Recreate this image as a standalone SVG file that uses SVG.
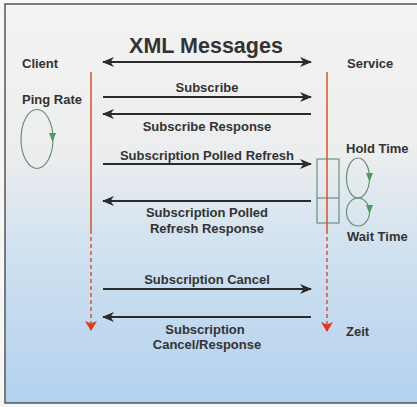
<svg xmlns="http://www.w3.org/2000/svg" width="417" height="407" viewBox="0 0 417 407">
<defs>
<linearGradient id="bg" x1="0" y1="0" x2="0" y2="1">
<stop offset="0" stop-color="#f3f3f1"/>
<stop offset="0.38" stop-color="#ecedee"/>
<stop offset="0.6" stop-color="#d2e2f0"/>
<stop offset="1" stop-color="#b2d1ef"/>
</linearGradient>
<marker id="ah" viewBox="0 0 12 10" refX="11" refY="5" markerWidth="12" markerHeight="10" markerUnits="userSpaceOnUse" orient="auto-start-reverse">
<path d="M0,0 L12,5 L0,10 L3.5,5 Z" fill="#2b2b2b"/>
</marker>
<marker id="rh" viewBox="0 0 12 10" refX="6" refY="9" markerWidth="12" markerHeight="10" markerUnits="userSpaceOnUse" orient="0">
<path d="M0,0 L6,2.5 L12,0 L6,10 Z" fill="#e2381a"/>
</marker>
</defs>
<style>
text{font-family:"Liberation Sans",Arial,sans-serif;font-weight:bold;fill:#333;}
.lbl{font-size:13px;}
.mid{text-anchor:middle;}
.msg{stroke:#2b2b2b;stroke-width:1.8;fill:none;}
.life{stroke:#d8461e;stroke-width:1.4;fill:none;}
.dash{stroke:#e04a1c;stroke-width:1.4;stroke-dasharray:4,3;fill:none;}
.loop{stroke:#5e8c6c;stroke-width:1.1;fill:none;}
.gh{fill:#4f9a62;}
</style>
<rect x="0" y="0" width="417" height="407" fill="#f6f6f4"/>
<rect x="5" y="4" width="420" height="399" fill="url(#bg)" stroke="#555" stroke-width="1.5"/>

<g id="title">
<text x="206" y="53" class="mid" style="font-size:21.5px">XML Messages</text>
</g>

<g id="client">
<text x="22" y="68" class="lbl">Client</text>
<text x="22" y="104" class="lbl">Ping Rate</text>
<ellipse cx="37" cy="139" rx="16" ry="29.5" class="loop"/>
<path d="M49,133 L56,133 L52.5,142 Z" class="gh"/>
</g>

<g id="service">
<text x="347" y="68" class="lbl">Service</text>
<text x="346" y="152.5" class="lbl">Hold Time</text>
<text x="347" y="241" class="lbl">Wait Time</text>
<text x="346" y="336" class="lbl">Zeit</text>
<rect x="317" y="159" width="22" height="64" class="loop"/>
<line x1="317" y1="198" x2="339" y2="198" class="loop"/>
<ellipse cx="358" cy="178" rx="11.5" ry="20" class="loop"/>
<path d="M366,173 L373,173 L369.5,182 Z" class="gh"/>
<ellipse cx="358" cy="212" rx="11.5" ry="14" class="loop"/>
<path d="M366,205 L373,205 L369.5,214 Z" class="gh"/>
</g>

<g id="connectors">
<line x1="103" y1="62" x2="311" y2="62" class="msg" marker-start="url(#ah)" marker-end="url(#ah)"/>
<line x1="91" y1="72" x2="91" y2="230" class="life"/>
<line x1="91" y1="230" x2="91" y2="330" class="dash" marker-end="url(#rh)"/>
<line x1="327" y1="72" x2="327" y2="230" class="life"/>
<line x1="327" y1="230" x2="327" y2="331" class="dash" marker-end="url(#rh)"/>
<line x1="103" y1="97" x2="311" y2="97" class="msg" marker-end="url(#ah)"/>
<line x1="311" y1="114" x2="103" y2="114" class="msg" marker-end="url(#ah)"/>
<line x1="103" y1="164" x2="311" y2="164" class="msg" marker-end="url(#ah)"/>
<line x1="311" y1="201" x2="103" y2="201" class="msg" marker-end="url(#ah)"/>
<line x1="103" y1="289" x2="311" y2="289" class="msg" marker-end="url(#ah)"/>
<line x1="311" y1="317" x2="103" y2="317" class="msg" marker-end="url(#ah)"/>
</g>

<g id="labels">
<text x="207" y="92" class="lbl mid">Subscribe</text>
<text x="207" y="130.5" class="lbl mid">Subscribe Response</text>
<text x="207" y="160" class="lbl mid">Subscription Polled Refresh</text>
<text x="207" y="216.5" class="lbl mid">Subscription Polled</text>
<text x="207" y="233" class="lbl mid">Refresh Response</text>
<text x="207" y="283.5" class="lbl mid">Subscription Cancel</text>
<text x="205" y="333.5" class="lbl mid">Subscription</text>
<text x="207" y="348.5" class="lbl mid">Cancel/Response</text>
</g>
</svg>
